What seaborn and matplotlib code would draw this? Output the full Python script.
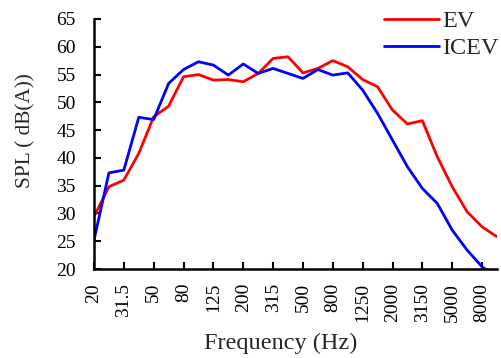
import numpy as np
import pandas as pd
import matplotlib
matplotlib.use("Agg")
import matplotlib.pyplot as plt
import seaborn as sns

bands = ["20", "25", "31.5", "40", "50", "63", "80", "100", "125", "160", "200", "250",
         "315", "400", "500", "630", "800", "1000", "1250", "1600", "2000", "2500",
         "3150", "4000", "5000", "6300", "8000", "10000"]
ev = [29.4, 34.8, 36.0, 40.8, 47.4, 49.3, 54.6, 55.0, 54.0, 54.1, 53.7, 55.2, 57.9, 58.2,
      55.3, 56.1, 57.5, 56.4, 54.1, 52.8, 48.6, 46.1, 46.7, 40.2, 34.8, 30.3, 27.6, 25.8]
icev = [25.2, 37.3, 37.8, 47.3, 46.9, 53.4, 55.9, 57.3, 56.7, 54.9, 56.9, 55.2, 56.1, 55.2,
        54.3, 55.9, 54.9, 55.3, 52.2, 48.0, 43.2, 38.4, 34.5, 31.8, 27.0, 23.4, 20.4, 18.5]
tick_labels = ["20", "31.5", "50", "80", "125", "200", "315", "500", "800", "1250",
               "2000", "3150", "5000", "8000"]
yticks = [20, 25, 30, 35, 40, 45, 50, 55, 60, 65]

sns.set_style("ticks")
plt.rcParams['font.family'] = ['Liberation Serif', 'DejaVu Serif']

n = len(bands)
df = pd.DataFrame({
    "idx": list(range(n)) * 2,
    "SPL": ev + icev,
    "Vehicle": ["EV"] * n + ["ICEV"] * n,
})

fig = plt.figure(figsize=(5.01, 3.58), dpi=100)
ax = fig.add_axes([0.1876, 0.2486, 0.8044, 0.6984])
sns.lineplot(data=df, x="idx", y="SPL", hue="Vehicle",
             palette={"EV": "#ff0000", "ICEV": "#0000ff"}, linewidth=2.0, ax=ax,
             sort=False)
for ln in ax.lines:
    ln.set_solid_joinstyle("round")
    ln.set_solid_capstyle("round")

ax.set_xlim(0, n - 1)
ax.set_ylim(20, 65)
tick_pos = [bands.index(t) for t in tick_labels]
ax.set_xticks(tick_pos)
ax.set_xticklabels(tick_labels, rotation=90, fontsize=14)
ax.set_yticks(yticks)
ax.set_yticklabels([str(v) for v in yticks], fontsize=14)
ax.tick_params(direction="in", length=5, width=1.5, colors="black")
ax.tick_params(axis="x", pad=10)
ax.tick_params(axis="y", pad=13)
for s in ["top", "right"]:
    ax.spines[s].set_visible(False)
for s in ["left", "bottom"]:
    ax.spines[s].set_linewidth(1.8)
    ax.spines[s].set_color("black")

ax.set_xlabel("Frequency (Hz)", fontsize=17.5)
ax.xaxis.label.set_va("center")
ax.xaxis.set_label_coords(0.464, -0.296)
ax.set_ylabel("SPL ( dB(A))", fontsize=15.3)
ax.yaxis.label.set_va("center")
ax.yaxis.set_label_coords(-0.169, 0.552)

leg = ax.legend(loc="upper left", bbox_to_anchor=(384 / 501, 0.971),
                bbox_transform=fig.transFigure, frameon=False,
                fontsize=17.5, handlelength=2.26, handletextpad=0.15,
                labelspacing=0.2, borderpad=0, borderaxespad=0, title=None)
for h in leg.get_lines():
    h.set_linewidth(2.0)

fig.savefig("out.png", dpi=100)
